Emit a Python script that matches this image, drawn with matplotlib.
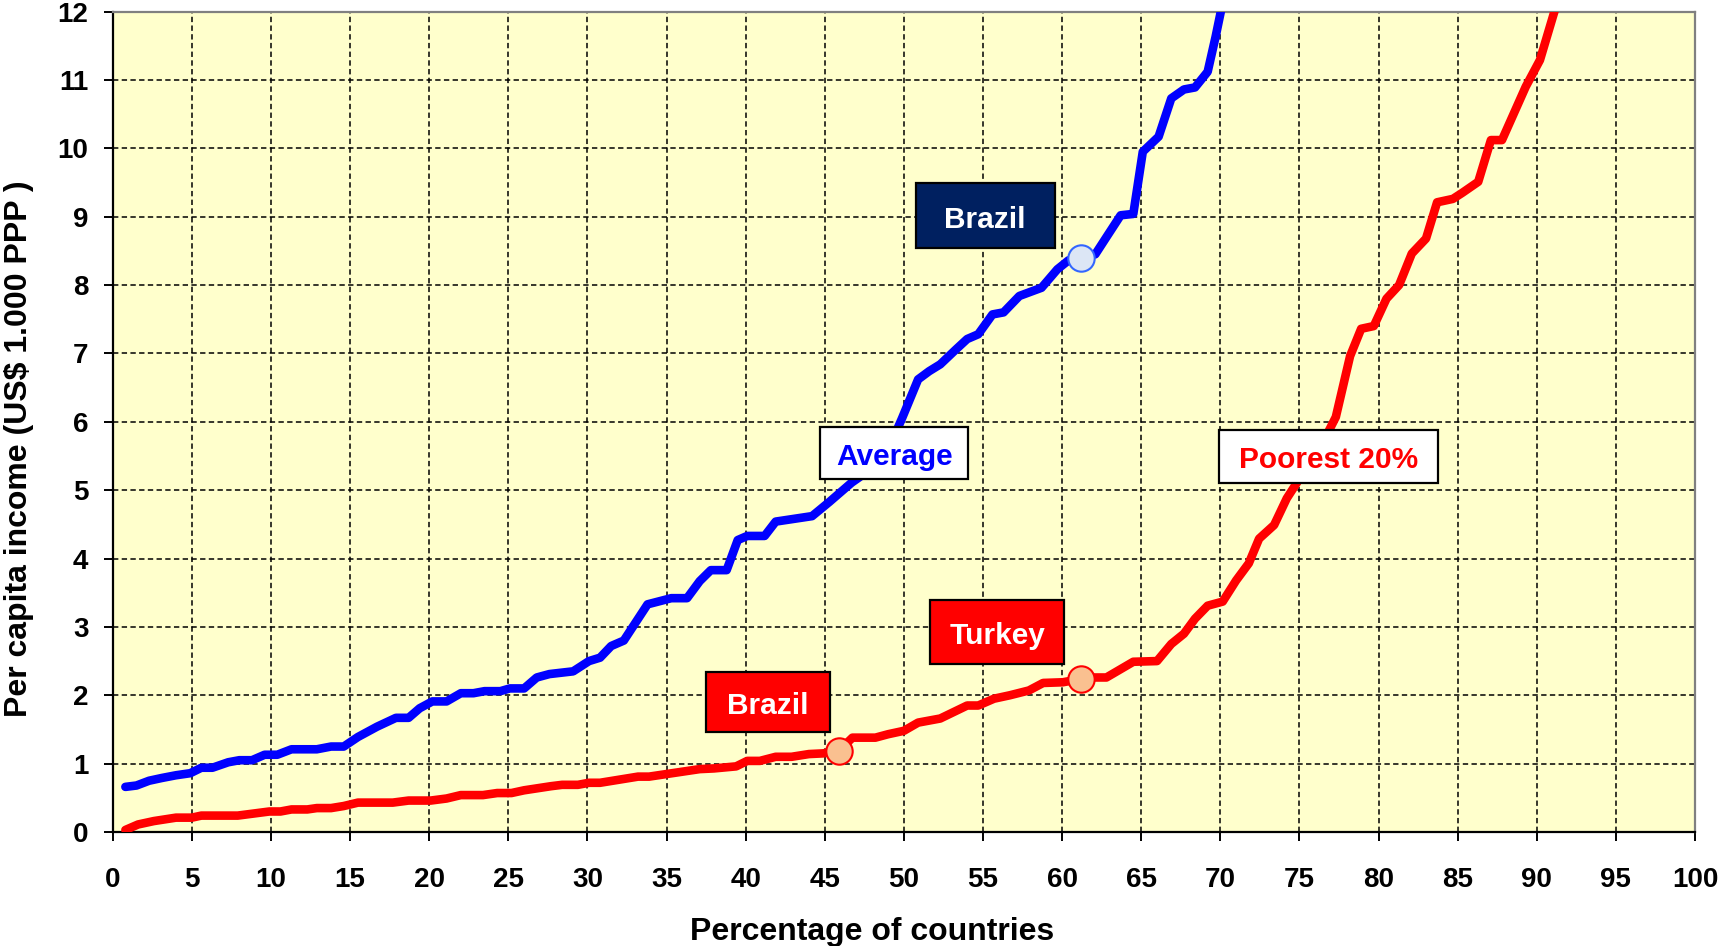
import matplotlib
matplotlib.use("Agg")
import matplotlib.pyplot as plt
from matplotlib.patches import Rectangle

plt.rcParams['font.family'] = ['Liberation Sans', 'DejaVu Sans']
plt.rcParams['font.weight'] = 'bold'

# ---- data ----
avg_x = [0.8, 1.5, 2.3, 3.1, 4.0, 4.9, 5.6, 6.3, 7.3, 8.0, 8.8, 9.6, 10.4, 11.3, 12.9,
         13.8, 14.6, 15.5, 16.7, 17.9, 18.7, 19.4, 20.2, 21.1, 22.0, 22.8, 23.5, 24.5,
         25.1, 26.0, 26.8, 27.6, 29.1, 30.1, 30.8, 31.5, 32.3, 33.8, 35.3, 36.3, 37.1,
         37.8, 38.8, 39.5, 40.1, 41.2, 41.9, 44.2, 45.3, 46.7, 47.5, 48.3, 49.0, 49.6,
         49.9, 50.9, 51.6, 52.3, 53.3, 54.0, 54.7, 55.6, 56.3, 57.3, 58.7, 59.7, 60.4,
         61.2, 62.1, 62.8, 63.7, 64.5, 65.1, 66.1, 66.9, 67.7, 68.4, 69.2, 69.7, 70.3]
avg_y = [0.66, 0.68, 0.75, 0.79, 0.83, 0.86, 0.94, 0.94, 1.02, 1.05, 1.05, 1.13, 1.13, 1.21, 1.21,
         1.25, 1.25, 1.39, 1.54, 1.67, 1.67, 1.81, 1.91, 1.91, 2.03, 2.03, 2.06, 2.06,
         2.10, 2.10, 2.26, 2.31, 2.35, 2.50, 2.55, 2.72, 2.80, 3.33, 3.42, 3.42, 3.67,
         3.83, 3.83, 4.27, 4.33, 4.33, 4.54, 4.62, 4.83, 5.11, 5.24, 5.40, 5.62, 5.90,
         6.06, 6.62, 6.74, 6.84, 7.06, 7.21, 7.28, 7.57, 7.60, 7.84, 7.96, 8.23, 8.36,
         8.39, 8.45, 8.70, 9.02, 9.04, 9.95, 10.17, 10.73, 10.86, 10.89, 11.12, 11.63, 12.3]

poor_x = [0.8, 1.6, 2.6, 4.0, 5.0, 5.6, 7.9, 9.9, 10.6, 11.3, 12.3, 12.9, 13.8, 14.6, 15.5,
          17.7, 18.7, 20.1, 21.1, 22.0, 23.4, 24.3, 25.2, 26.0, 27.7, 28.4, 29.4, 30.1,
          30.8, 33.2, 33.9, 37.1, 38.0, 39.4, 40.1, 40.9, 41.9, 42.9, 44.0, 44.9, 45.9,
          46.75, 48.2, 49.0, 50.0, 50.9, 52.3, 54.0, 54.7, 55.7, 56.7, 57.9, 58.8, 60.05,
          61.2, 62.0, 62.8, 64.5, 66.0, 66.9, 67.7, 68.4, 69.2, 70.15, 71.0, 71.8, 72.45,
          73.4, 74.2, 74.9, 75.8, 76.6, 77.3, 78.2, 78.9, 79.7, 80.5, 81.3, 82.1, 83.0,
          83.7, 84.7, 85.3, 86.3, 87.1, 87.8, 89.3, 90.2, 91.1, 91.5]
poor_y = [0.03, 0.11, 0.16, 0.21, 0.21, 0.24, 0.24, 0.30, 0.30, 0.33, 0.33, 0.35, 0.35, 0.38, 0.43,
          0.43, 0.46, 0.46, 0.49, 0.54, 0.54, 0.57, 0.57, 0.61, 0.67, 0.69, 0.69, 0.72,
          0.72, 0.81, 0.81, 0.92, 0.93, 0.96, 1.04, 1.04, 1.10, 1.10, 1.14, 1.15, 1.19,
          1.38, 1.38, 1.43, 1.48, 1.60, 1.66, 1.85, 1.85, 1.95, 2.00, 2.07, 2.18, 2.19,
          2.24, 2.26, 2.26, 2.49, 2.50, 2.75, 2.90, 3.12, 3.31, 3.37, 3.68, 3.93, 4.29,
          4.49, 4.88, 5.13, 5.40, 5.75, 6.07, 6.96, 7.36, 7.40, 7.80, 8.00, 8.46, 8.68,
          9.21, 9.26, 9.35, 9.51, 10.12, 10.12, 10.90, 11.29, 11.99, 12.3]

# highlighted countries: (x, y)
brazil_avg = (61.2, 8.39)
brazil_poor = (45.9, 1.19)
turkey_poor = (61.2, 2.24)

x_ticks = list(range(0, 101, 5))
y_ticks = list(range(0, 13))
x_label = "Percentage of countries"
y_label = "Per capita income (US$ 1.000 PPP )"

# ---- figure ----
fig = plt.figure(figsize=(17.21, 9.46), dpi=100)
ax = fig.add_axes([0.0655, 0.1205, 0.9194, 0.8673])
ax.set_facecolor('#FFFFCC')
ax.set_xlim(0, 100)
ax.set_ylim(0, 12)

ax.set_xticks(x_ticks)
ax.set_yticks(y_ticks)
ax.grid(True, color='black', linestyle=(0, (3.5, 2.2)), linewidth=1.1, zorder=1)
ax.set_axisbelow(True)

for s in ['left', 'bottom']:
    ax.spines[s].set_color('black')
    ax.spines[s].set_linewidth(1.6)
for s in ['top', 'right']:
    ax.spines[s].set_color('#808080')
    ax.spines[s].set_linewidth(1.6)

ax.tick_params(axis='x', direction='out', length=6.5, width=1.4, pad=19,
               labelsize=20, top=False)
ax.tick_params(axis='y', direction='out', length=6.5, width=1.4, pad=11,
               labelsize=20, right=False)
for lab in ax.get_xticklabels() + ax.get_yticklabels():
    lab.set_fontweight('bold')

ax.plot(avg_x, avg_y, color='#0000FF', linewidth=6.2, solid_joinstyle='round',
        solid_capstyle='round', zorder=3)
ax.plot(poor_x, poor_y, color='#FF0000', linewidth=6.2, solid_joinstyle='round',
        solid_capstyle='round', zorder=3)

ax.plot(*brazil_avg, marker='o', markersize=19, markerfacecolor='#DCE6F5',
        markeredgecolor='#3366FF', markeredgewidth=1.5, zorder=4)
ax.plot(*brazil_poor, marker='o', markersize=19, markerfacecolor='#FAC090',
        markeredgecolor='#FF0000', markeredgewidth=1.5, zorder=4)
ax.plot(*turkey_poor, marker='o', markersize=19, markerfacecolor='#FAC090',
        markeredgecolor='#FF0000', markeredgewidth=1.5, zorder=4)


def box(x0, x1, y0, y1, text, face, tcolor):
    ax.add_patch(Rectangle((x0, y0), x1 - x0, y1 - y0, facecolor=face,
                           edgecolor='black', linewidth=1.6, zorder=5))
    ax.text((x0 + x1) / 2, (y0 + y1) / 2 - 0.06, text, color=tcolor, fontsize=21.5,
            fontweight='bold', ha='center', va='center', zorder=6)


box(50.76, 59.52, 8.54, 9.49, 'Brazil', '#002060', 'white')
box(44.7, 54.07, 5.16, 5.93, 'Average', 'white', '#0000FF')
box(51.66, 60.12, 2.45, 3.40, 'Turkey', '#FF0000', 'white')
box(37.5, 45.35, 1.46, 2.34, 'Brazil', '#FF0000', 'white')
box(69.94, 83.75, 5.11, 5.88, 'Poorest 20%', 'white', '#FF0000')

ax.set_xlabel(x_label, fontsize=23, fontweight='bold')
ax.xaxis.label.set_va('center')
ax.xaxis.set_label_coords(0.48, -0.122)
ax.set_ylabel(y_label, fontsize=23, fontweight='bold')
ax.yaxis.label.set_va('center')
ax.yaxis.set_label_coords(-0.0594, 0.467)

fig.savefig('out.png', dpi=100)
